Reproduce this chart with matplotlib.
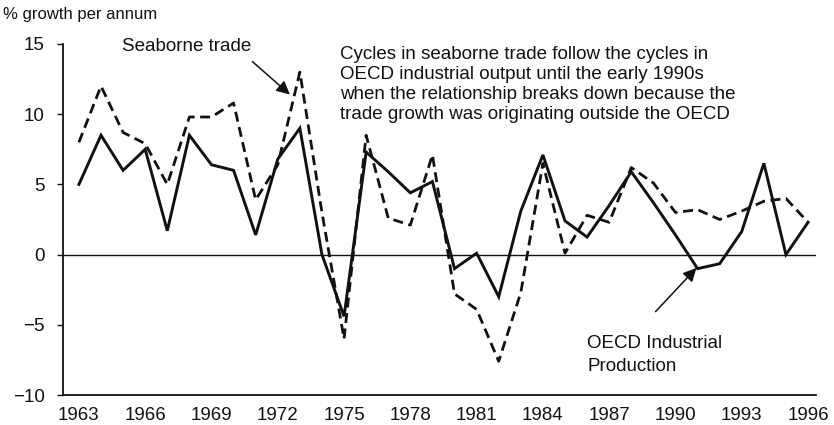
import matplotlib
matplotlib.use("Agg")
import matplotlib.pyplot as plt

plt.rcParams['font.family'] = ['Liberation Sans', 'DejaVu Sans']

years = list(range(1963, 1997))
oecd_ip = [5.0, 8.5, 6.0, 7.5, 1.7, 8.5, 6.4, 6.0, 1.4,
           6.8, 9.0, 0.0, -4.4, 7.3, 5.9, 4.4, 5.2,
           -1.0, 0.1, -3.0, 3.1, 7.1, 2.4, 1.25, 3.5, 5.9,
           3.7, 1.4, -1.0, -0.65, 1.65, 6.5, 0.0, 2.3]
seaborne = [8.0, 12.0, 8.7, 7.9, 5.0, 9.8, 9.8, 10.8, 3.9,
            6.4, 13.0, 3.0, -6.0, 8.5, 2.6, 2.1, 7.1,
            -2.8, -3.9, -7.6, -2.7, 6.5, 0.1, 2.8, 2.3, 6.2,
            5.1, 3.0, 3.2, 2.5, 3.1, 3.8, 4.0, 2.3]
xticks = list(range(1963, 1997, 3))
yticks = [-10, -5, 0, 5, 10, 15]

note = ("Cycles in seaborne trade follow the cycles in\n"
        "OECD industrial output until the early 1990s\n"
        "when the relationship breaks down because the\n"
        "trade growth was originating outside the OECD")

ink = '#111111'
fs = 13.5

fig = plt.figure(figsize=(8.34, 4.25), dpi=100)
ax = fig.add_axes([63/834, 30/425, (816-63)/834, (395-44)/425])

ax.plot(years, oecd_ip, color=ink, lw=2.1, solid_joinstyle='miter')
ax.plot(years, seaborne, color=ink, lw=2.0, dashes=(3.6, 2.0))
ax.axhline(0, color=ink, lw=1.0)

ax.set_xlim(1962.28, 1996.36)
ax.set_ylim(-10, 15)
ax.set_xticks(xticks)
ax.set_yticks(yticks)
ax.tick_params(axis='x', length=0, pad=9, labelsize=fs, colors=ink)
ax.tick_params(axis='y', length=4, width=1, direction='out', pad=9,
               labelsize=fs, colors=ink)

for side in ['top', 'right']:
    ax.spines[side].set_visible(False)
for side in ['left', 'bottom']:
    ax.spines[side].set_linewidth(1.3)
    ax.spines[side].set_color(ink)

fig.text(0.004, 1 - 15/425, '% growth per annum', fontsize=fs - 1.5,
         color=ink, va='center', ha='left')

ax.annotate('Seaborne trade', xy=(1972.55, 11.5), xytext=(1964.95, 14.8),
            fontsize=fs, color=ink, va='center', ha='left',
            annotation_clip=False)
ax.annotate('', xy=(1972.55, 11.4), xytext=(1970.85, 13.75),
            arrowprops=dict(arrowstyle='-|>', color=ink, lw=1.1,
                            mutation_scale=20, shrinkA=0, shrinkB=0),
            annotation_clip=False)

ax.text(1974.8, 12.1, note, fontsize=fs, color=ink, va='center',
        ha='left', linespacing=1.23)

ax.text(1986.0, -7.16, 'OECD Industrial\nProduction', fontsize=fs,
        color=ink, va='center', ha='left', linespacing=1.44)
ax.annotate('', xy=(1990.95, -0.95), xytext=(1989.1, -4.06),
            arrowprops=dict(arrowstyle='-|>', color=ink, lw=1.1,
                            mutation_scale=20, shrinkA=0, shrinkB=0))

fig.savefig('out.png', dpi=100)
